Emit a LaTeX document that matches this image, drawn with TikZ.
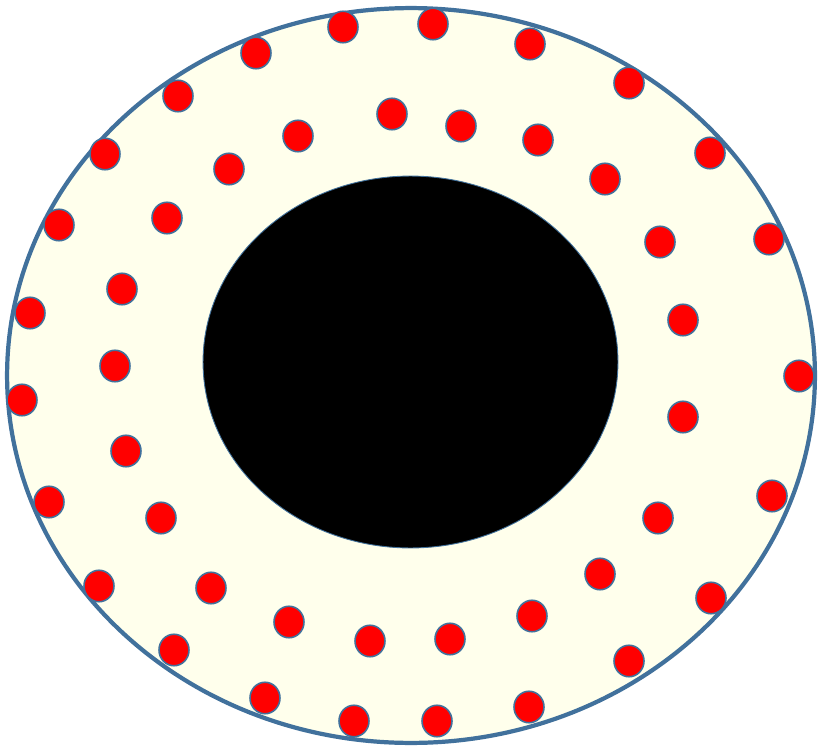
\documentclass[tikz,border=0pt]{standalone}
\usepackage{tikz}
\usetikzlibrary{shapes.geometric}
\definecolor{rimblue}{RGB}{65,113,156}
\definecolor{ivory}{RGB}{255,255,236}
\tikzset{
  % --- Ringe ------------------------------------------------
  outerring/.style={draw=rimblue, line width=2.4pt, fill=ivory, ellipse,
    minimum width=16.16cm, minimum height=14.7cm, inner sep=0pt},
  core/.style={draw=rimblue, line width=0.5pt, fill=black, ellipse,
    minimum width=8.3cm, minimum height=7.44cm, inner sep=0pt},
  % --- Punkte -----------------------------------------------
  dot/.style={draw=rimblue, line width=0.9pt, fill=red, ellipse,
    minimum width=0.6cm, minimum height=0.63cm, inner sep=0pt}
}

\begin{document}
\begin{tikzpicture}[x=0.02cm, y=-0.02cm]
  \useasboundingbox (0,0) rectangle (818,747);

  % --- Ellipsen -------------------------------------------------
  \node[outerring] (rim) at (411,375.5) {};
  \node[core] (kern) at (410.5,362) {};

  % --- aeusserer Ring -------------------------------------------
  \foreach \px/\py [count=\i] in {343/27, 433/24, 530/44, 629/83, 710/153,
      769/239, 799/376, 772/496, 711/598, 629/661, 529/707, 437/721,
      354/721, 265/698, 174/650, 99/586, 49/502, 22/400, 30/313, 59/225,
      105/154, 178/96, 256/53}
    \node[dot] (a\i) at (\px,\py) {};

  % --- innerer Ring ---------------------------------------------
  \foreach \px/\py [count=\i] in {392/114, 461/126, 538/140, 605/179,
      660/242, 683/320, 683/417, 658/518, 600/574, 532/616, 450/639,
      370/641, 289/622, 211/588, 161/518, 126/451, 115/366, 122/289,
      167/218, 229/169, 298/136}
    \node[dot] (b\i) at (\px,\py) {};

\end{tikzpicture}
\end{document}
